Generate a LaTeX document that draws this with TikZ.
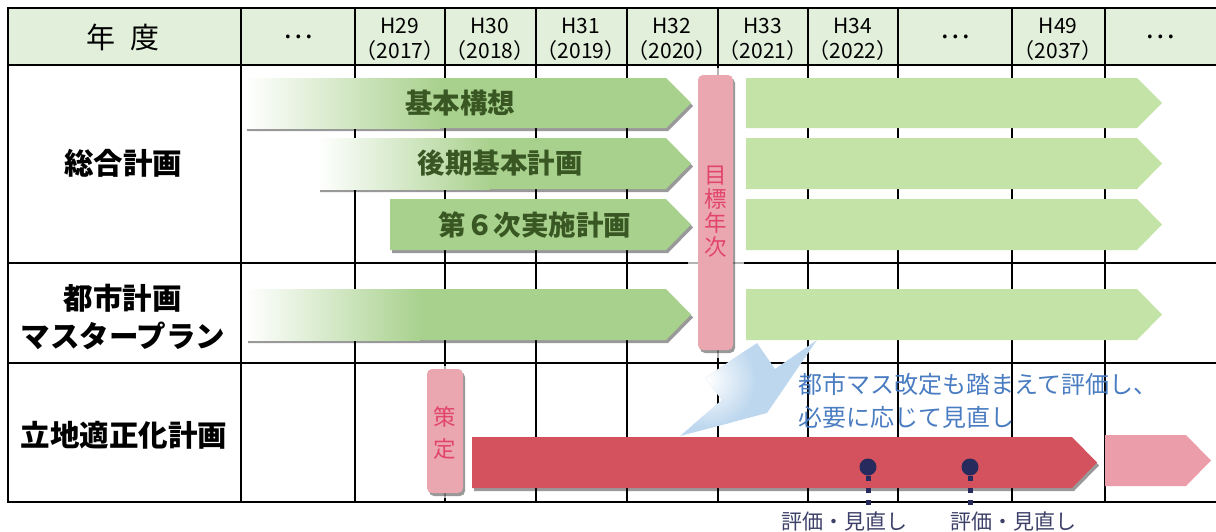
\documentclass[tikz,border=0pt]{standalone}
\usepackage{fontspec}
\setmainfont{Noto Sans CJK JP}
\usetikzlibrary{shadows}
\definecolor{headgreen}{HTML}{E2EFDA}
\definecolor{plangreen}{HTML}{A9D18E}
\definecolor{nextgreen}{HTML}{C4E3A7}
\definecolor{labelgreen}{HTML}{385723}
\definecolor{goalpink}{HTML}{EAA7B0}
\definecolor{goaltext}{HTML}{E2456B}
\definecolor{locred}{HTML}{D4525D}
\definecolor{locpink}{HTML}{EB9DAA}
\definecolor{dotnavy}{HTML}{272A5C}
\definecolor{evaltext}{HTML}{3D4068}
\definecolor{notetext}{HTML}{4A7CC1}
\definecolor{noteblue}{HTML}{BDD7EE}
\newcommand{\fsz}[2]{\fontsize{#1}{#2}\selectfont}
% chevron bar: style, left end, tip, top, bottom
\newcommand{\planarrow}[5]{%
  \path[#1] (#2,#4) -- ({#3-25},#4) -- (#3,{(#4+#5)/2}) -- ({#3-25},#5) -- (#2,#5) -- cycle;}

\begin{document}
\begin{tikzpicture}[x=1pt,y=-1pt,
  thin rule/.style={line width=1.2pt},
  thick rule/.style={line width=2.6pt},
  soft shadow/.style={drop shadow={shadow xshift=2pt,shadow yshift=-3pt,opacity=.4,fill=black}},
  rowlabel/.style={font=\fsz{29.5}{38}\bfseries,align=center},
  barlabel/.style={font=\fsz{27.5}{27.5}\bfseries,text=labelgreen},
  yearlabel/.style={font=\fsz{21}{25},align=center},
  skiplabel/.style={font=\fsz{28}{28}},
  markbox/.style={fill=goalpink,rounded corners=5pt,soft shadow},
  marktext/.style={text=goaltext,align=center},
  evallabel/.style={font=\fsz{21}{21},text=evaltext,inner sep=0pt},
  evaldot/.style={circle,fill=dotnavy,minimum size=17pt,inner sep=0pt},
  evaldash/.style={dotnavy,line width=5pt,dash pattern=on 5pt off 7pt}]
\useasboundingbox (0,0) rectangle (1216,531);

% table
\fill[headgreen] (8,8) rectangle (1216,65);
\foreach \x in {241,355,445,536,627,718,808,898,1012,1105}
  \draw[thin rule] (\x,8) -- (\x,502);
\draw[thick rule] (8,8) -- (8,502);
\foreach \y in {8,65,263,363,502}
  \draw[thick rule] (7,\y) -- (1216,\y);

% header
\node[font=\fsz{29}{29}] (nendo) at (123,37) {年\hspace{15pt}度};
\node[skiplabel] (skipa) at (298,37) {…};
\node[skiplabel] (skipb) at (955,37) {…};
\node[skiplabel] (skipc) at (1160,37) {…};
\foreach \x/\h/\yr in {400/29/2017,490/30/2018,581/31/2019,672/32/2020,763/33/2021,853/34/2022,1058/49/2037}
  \node[yearlabel] (h\h) at (\x,39) {H\h\\（\yr）};

% row titles
\node[rowlabel] (sogo) at (123,163) {総合計画};
\node[rowlabel] (toshi) at (123,317) {都市計画\\マスタープラン};
\node[rowlabel] (ricchi) at (124,435) {立地適正化計画};

% white haze behind the marks
\fill[white,opacity=.7] (688,68) rectangle (744,358);
\fill[white,opacity=.7] (420,366) rectangle (480,498);

% plan bars up to target year
\planarrow{fill=plangreen,soft shadow}{245}{691}{78}{128}
\shade[left color=white,right color=plangreen] (245,78) rectangle (440,128);
\planarrow{fill=plangreen,soft shadow}{318}{691}{138}{189}
\shade[left color=white,right color=plangreen] (318,138) rectangle (490,189);
\planarrow{fill=plangreen,soft shadow}{390}{691}{199}{250}
\planarrow{fill=plangreen,soft shadow}{246}{691}{289}{340}
\shade[left color=white,right color=plangreen] (246,289) rectangle (420,340);
\node[barlabel] (kihon) at (460,103) {基本構想};
\node[barlabel] (koki) at (500,163) {後期基本計画};
\node[barlabel] (jisshi) at (535,225) {第６次実施計画};

% bars after target year
\planarrow{fill=nextgreen}{746}{1162}{78}{128}
\planarrow{fill=nextgreen}{746}{1162}{138}{189}
\planarrow{fill=nextgreen}{746}{1162}{199}{250}
\planarrow{fill=nextgreen}{746}{1162}{289}{340}

% target year mark
\path[markbox] (698,75) rectangle (733,350);
\node[marktext,font=\fsz{22.5}{24}] (mokuhyo) at (715.5,212) {目\\標\\年\\次};

% location plan
\planarrow{fill=locred,soft shadow}{472}{1097}{437}{488}
\planarrow{fill=locpink}{1105}{1211}{435}{486}
\path[markbox] (427,369) rectangle (463,493);
\node[marktext,font=\fsz{22.5}{32}] (sakutei) at (445,433) {策\\定};

% note callout
\begin{scope}
  \clip (817,340) -- (767,413) -- (680,436) -- (722,400) -- (705,378) -- (757,343) -- (775,369) -- cycle;
  \fill[noteblue] (670,330) rectangle (830,440);
  \shade[inner color=white,outer color=noteblue] (708,380) circle (48);
\end{scope}
\node[font=\fsz{24}{33},text=notetext,align=left,anchor=west,inner sep=0pt] (note) at (798,401)
  {都市マス改定も踏まえて評価し、\\必要に応じて見直し};

% reviews
\node[evaldot] (dota) at (868,467) {};
\node[evaldot] (dotb) at (970,467) {};
\node[evallabel] (evala) at (844,521) {評価・見直し};
\node[evallabel] (evalb) at (1013,521) {評価・見直し};
\draw[evaldash] (dota.south) -- (dota.south |- evala.north);
\draw[evaldash] (dotb.south) -- (dotb.south |- evalb.north);
\end{tikzpicture}
\end{document}
